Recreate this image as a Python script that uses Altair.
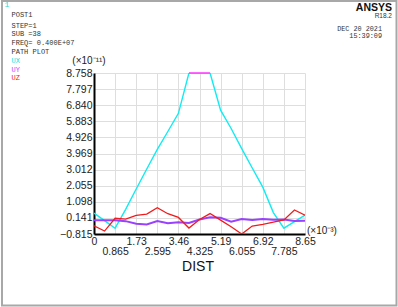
import altair as alt
import pandas as pd

# ---- data (x in units of 1e-3, values in units of 1e-11) ----
dist = [0, 0.4325, 0.865, 1.2975, 1.73, 2.1625, 2.595, 3.0275, 3.46, 3.8925, 4.325,
        4.7575, 5.19, 5.6225, 6.055, 6.4875, 6.92, 7.3525, 7.785, 8.2175, 8.65]
ux = [0.43, -0.02, -0.47, 0.65, 1.86, 3.05, 4.22, 5.28, 6.36, 8.758, 8.758,
      8.758, 6.55, 5.46, 4.26, 3.11, 1.97, 0.46, -0.47, -0.08, 0.31]
uy = [0.0, 0.0, 0.0, -0.05, -0.2, -0.25, -0.05, -0.18, -0.12, -0.16, 0.05,
      0.18, 0.15, -0.08, 0.08, 0.02, 0.08, 0.03, 0.04, -0.04, -0.02]
uz = [-0.33, -0.64, 0.12, 0.07, 0.29, 0.37, 0.75, 0.39, 0.17, -0.46, 0.05,
      0.40, 0.01, -0.38, -0.815, -0.34, -0.24, -0.11, 0.02, 0.61, 0.30]
series = ["UX", "UY", "UZ"]
x_ticks = [0, 0.865, 1.73, 2.595, 3.46, 4.325, 5.19, 6.055, 6.92, 7.785, 8.65]
y_ticks = [-0.815, 0.141, 1.098, 2.055, 3.012, 3.969, 4.926, 5.883, 6.840, 7.797, 8.758]
info_lines = ["STEP=1", "SUB =38", "FREQ= 0.400E+07", "PATH PLOT"]

rows = []
for name, vals in zip(series, [ux, uy, uz]):
    for d, v in zip(dist, vals):
        rows.append({"dist": d, "value": v, "series": name})
df = pd.DataFrame(rows)

# plot origin in page pixels
OX, OY = 94, 73
W, H = 211, 161

xs = alt.Scale(domain=[0, 8.65], nice=False, zero=False)
ys = alt.Scale(domain=[-0.815, 8.758], nice=False, zero=False)

x_axis = alt.Axis(values=x_ticks, tickCount=30, title=None,
                  labelExpr="(round(datum.value*1000) % 1730 != 0) ? ['', format(datum.value, '.3~f')] : format(datum.value, '.3~f')",
                  labelLineHeight=10, labelPadding=2, labelBaseline="top",
                  labelFlush=False, labelOverlap=False)
y_axis = alt.Axis(values=y_ticks, tickCount=30, title=None, format=".3f", labelPadding=2,
                  labelOverlap=False, labelFlush=False)

base = alt.Chart(df)

def line(name, color, width):
    return base.transform_filter(alt.datum.series == name).mark_line(
        color=color, strokeWidth=width, clip=True
    ).encode(
        x=alt.X("dist:Q", scale=xs, axis=x_axis),
        y=alt.Y("value:Q", scale=ys, axis=y_axis),
        order="dist:Q",
    )

cyan = line("UX", "#10ecf2", 1.4)
purple = line("UY", "#9a40ff", 2.0)
red = line("UZ", "#f01c1c", 1.3)
topseg = base.transform_filter(
    (alt.datum.series == "UX") & (alt.datum.value >= 8.75)
).mark_line(color="#ff44ff", strokeWidth=1.6).encode(
    x=alt.X("dist:Q", scale=xs), y=alt.Y("value:Q", scale=ys), order="dist:Q"
)

one = pd.DataFrame({"a": [0]})

def txt(text, x, y, size=7, color="#333", font="Liberation Mono", align="left",
        weight="normal", baseline="middle"):
    return alt.Chart(one).mark_text(
        text=text, fontSize=size, color=color, font=font, align=align,
        fontWeight=weight, baseline=baseline
    ).encode(x=alt.value(x - OX), y=alt.value(y - OY))

texts = [
    txt("1", 4.5, 5, size=8, color="#22dddd"),
    txt("POST1", 11.5, 15),
]
for i, ln in enumerate(info_lines):
    texts.append(txt(ln, 11.5, 25.5 + i * 8.8))
texts += [
    txt(series[0], 11.5, 61, color="#22dddd"),
    txt(series[1], 11.5, 69.5, color="#c040ff"),
    txt(series[2], 11.5, 78, color="#f02020"),
    txt("ANSYS", 392, 8, size=10.5, color="#111", font="Liberation Sans",
        align="right", weight="bold"),
    txt("R18.2", 392, 15.5, size=6.5, color="#333", font="Liberation Sans", align="right"),
    txt("DEC 20 2021", 382, 28.5, size=6.8, align="right"),
    txt("15:39:09", 382, 35.5, size=6.8, align="right"),
    txt("(\u00d710\u207b\u00b9\u00b9)", 89, 61, size=10, color="#222",
        font="Liberation Sans", align="center"),
    txt("(\u00d710\u207b\u00b3)", 307, 231, size=10, color="#222",
        font="Liberation Sans", align="left"),
    txt("DIST", 198, 267, size=14, color="#111", font="Liberation Sans", align="center"),
]

frame = alt.Chart(one).mark_rect(
    fillOpacity=0, stroke="#a8a8a8", strokeWidth=2
).encode(
    x=alt.value(2 - OX), x2=alt.value(396.5 - OX),
    y=alt.value(1 - OY), y2=alt.value(305.5 - OY)
)

chart = alt.layer(cyan, purple, red, topseg, frame, *texts).properties(
    width=W, height=H,
    padding={"left": OX, "top": OY, "right": 398 - OX - W, "bottom": 307 - OY - H},
    autosize=alt.AutoSizeParams(type="none"),
    background="white",
).configure_view(strokeWidth=0).configure_axis(
    domainColor="#000", domainWidth=2, gridColor="#dedede", gridWidth=1,
    ticks=False, labelFont="Liberation Sans", labelFontSize=10.5, labelColor="#222",
)

chart.save("out.html", embed_options={"renderer": "svg", "actions": False})
